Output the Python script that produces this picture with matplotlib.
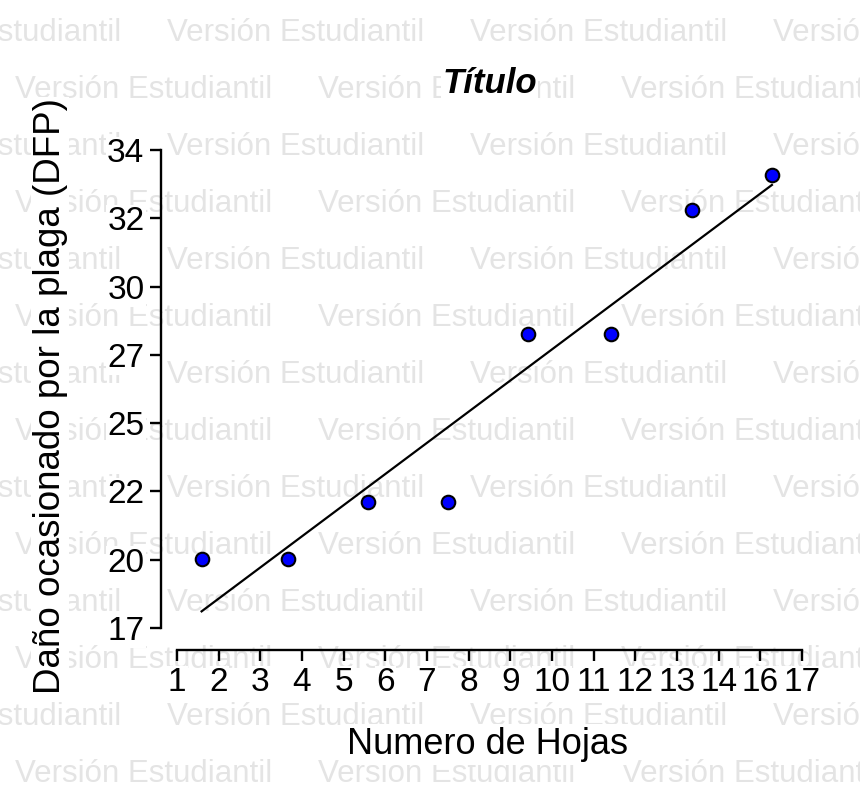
import matplotlib
matplotlib.use("Agg")
import matplotlib.pyplot as plt
import numpy as np

# data
hojas = [1.63, 3.83, 5.88, 7.94, 9.99, 12.11, 14.18, 16.23]
dano = [19.45, 19.45, 21.48, 21.48, 27.46, 27.46, 31.86, 33.12]

x_tick_labels = ["1", "2", "3", "4", "5", "6", "7", "8", "9", "10",
                 "11", "12", "13", "14", "16", "17"]
y_tick_labels = ["17", "20", "22", "25", "27", "30", "32", "34"]
x_range = (1, 17)
y_range = (17, 34)

watermark = "Versión Estudiantil"

FONT = "Liberation Sans"

W, H = 860, 785
fig = plt.figure(figsize=(W / 100, H / 100), dpi=100)

# background watermark rows (light grey, behind everything)
for i in range(14):
    y_px = 30 + 57 * i + 11
    x0 = -136 if i % 2 == 0 else 15
    for j in range(4):
        fig.text((x0 + 303 * j) / W, 1 - y_px / H, watermark,
                 fontsize=22.5, family=FONT, color="#e4e4e4",
                 ha="left", va="baseline", zorder=-5)

ax = fig.add_axes([177 / W, 157 / H, 625 / W, 478 / H])
ax.patch.set_visible(False)

ax.scatter(hojas, dano, s=95, facecolor="#0000ff", edgecolor="black",
           linewidth=1.5, zorder=3, clip_on=False)

# fitted line
slope, intercept = np.polyfit(hojas, dano, 1)
xs = np.array([min(hojas), max(hojas)])
ax.plot(xs, slope * xs + intercept, color="black", lw=1.6, zorder=2)

ax.set_xlim(*x_range)
ax.set_ylim(*y_range)
ax.set_xticks(np.linspace(x_range[0], x_range[1], len(x_tick_labels)))
ax.set_xticklabels(x_tick_labels)
ax.set_yticks(np.linspace(y_range[0], y_range[1], len(y_tick_labels)))
ax.set_yticklabels(y_tick_labels)

for side in ("top", "right"):
    ax.spines[side].set_visible(False)
ax.spines["left"].set_position(("outward", 11.5))
ax.spines["bottom"].set_position(("outward", 16))
for side in ("left", "bottom"):
    ax.spines[side].set_linewidth(1.7)
ax.tick_params(width=1.7, length=8, labelsize=24, pad=4)

for lab in ax.get_xticklabels() + ax.get_yticklabels():
    lab.set_family(FONT)
    lab.set_bbox(dict(facecolor="white", edgecolor="none", pad=1))

ax.set_xlabel("Numero de Hojas", fontsize=26, family=FONT,
              bbox=dict(facecolor="white", edgecolor="none", pad=2))
ax.xaxis.set_label_coords(0.497, -0.2636)
ax.xaxis.label.set_va("baseline")

ax.set_ylabel("Daño ocasionado por la plaga (DFP)", fontsize=26.5, family=FONT,
              bbox=dict(facecolor="white", edgecolor="none", pad=1))
ax.yaxis.set_label_coords(-0.2032, 0.485)
ax.yaxis.label.set_va("center")

ax.set_title("Título", fontsize=25, family=FONT, fontweight="bold",
             fontstyle="italic", pad=0, y=1 + 57 / 478,
             bbox=dict(facecolor="white", edgecolor="none", pad=1))

fig.savefig("out.png", dpi=100)
